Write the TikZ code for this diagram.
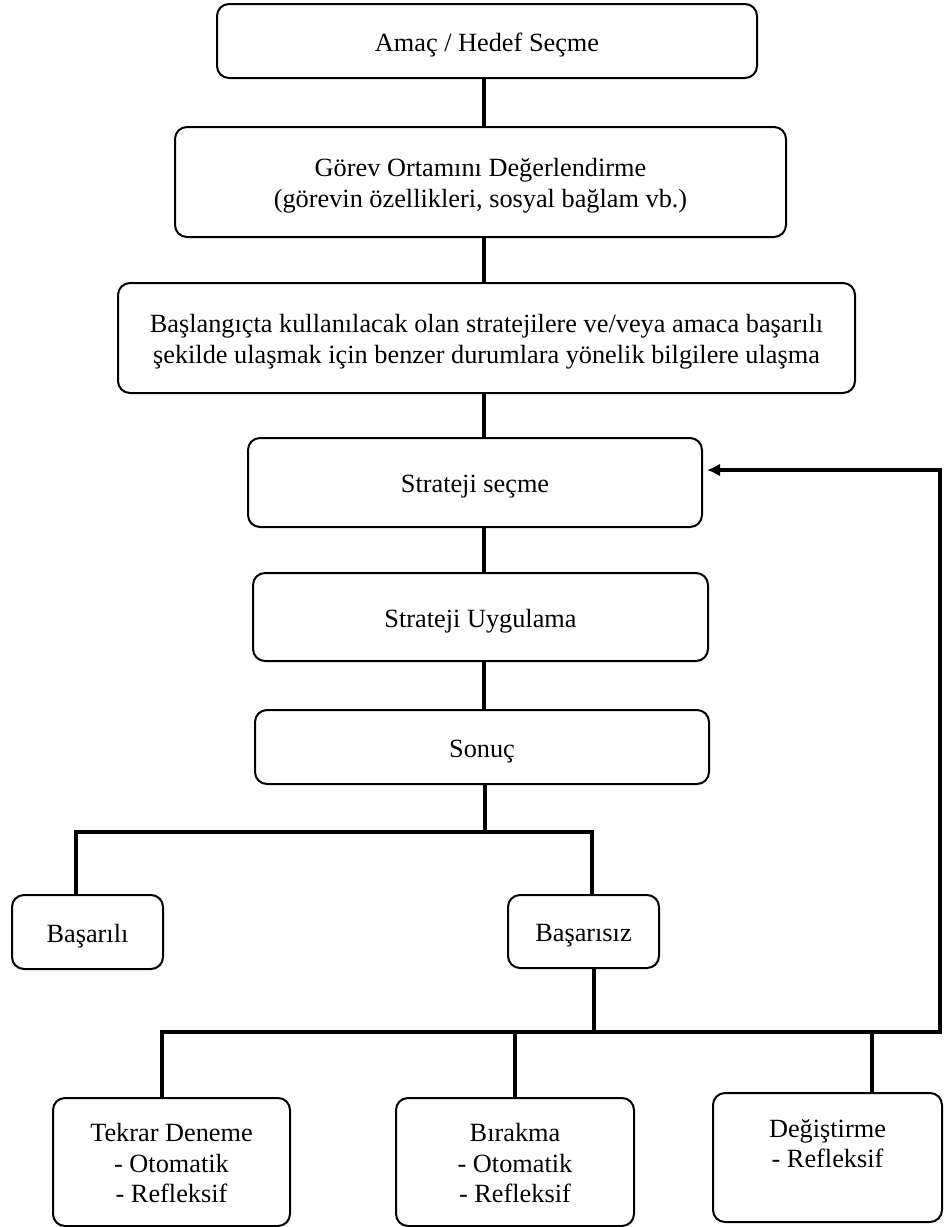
\documentclass[tikz,border=0pt]{standalone}
\usepackage{fontspec}
\setmainfont{Liberation Serif}
\usetikzlibrary{arrows.meta}
% struts that fix where the text lines sit inside their boxes
\newcommand\topstrut{\rule[-6pt]{0pt}{32pt}}
\newcommand\botstrut{\rule[-6pt]{0pt}{6pt}}
\begin{document}
\begin{tikzpicture}[x=1pt,y=-1pt,
  box/.style={draw, line width=2pt, rounded corners=12pt, align=center,
    inner sep=0pt, font=\fontsize{26.3}{30.5}\selectfont},
  link/.style={line width=4pt},
  back/.style={line width=3.5pt, -{Latex[length=13pt,width=13pt]}}]
\fill[white] (0,0) rectangle (944,1227);
\useasboundingbox (0,0) rectangle (944,1227);

% main chain of steps
\node[box, minimum width=540pt, minimum height=74pt] (b1) at (487,41) {\topstrut Amaç / Hedef Seçme};
\node[box, minimum width=611pt, minimum height=110pt] (b2) at (480.5,182)
  {\topstrut Görev Ortamını Değerlendirme\\(görevin özellikleri, sosyal bağlam vb.)\botstrut};
\node[box, minimum width=737pt, minimum height=110pt] (b3) at (486.5,338)
  {\topstrut Başlangıçta kullanılacak olan stratejilere ve/veya amaca başarılı\\şekilde ulaşmak için benzer durumlara yönelik bilgilere ulaşma\botstrut};
\node[box, minimum width=454pt, minimum height=89pt] (b4) at (475,482.5) {\topstrut Strateji seçme};
\node[box, minimum width=455pt, minimum height=88pt] (b5) at (480.5,617) {\topstrut Strateji Uygulama};
\node[box, minimum width=454pt, minimum height=74pt] (b6) at (482,747) {\topstrut Sonuç};

% outcomes
\node[box, minimum width=151pt, minimum height=74pt] (ok) at (87.5,932) {\topstrut Başarılı};
\node[box, minimum width=151pt, minimum height=73pt] (fail) at (583.5,931.5) {\topstrut Başarısız};

% reactions to failure
\node[box, minimum width=237pt, minimum height=128pt] (t1) at (171.5,1162)
  {\topstrut Tekrar Deneme\\- Otomatik\\- Refleksif\botstrut};
\node[box, minimum width=238pt, minimum height=128pt] (t2) at (515,1162)
  {\topstrut Bırakma\\- Otomatik\\- Refleksif\botstrut};
\node[box, minimum width=229pt, minimum height=129pt] (t3) at (827.5,1157.5)
  {\topstrut Değiştirme\\- Refleksif\\\botstrut};

% junction points
\coordinate (spine) at (484,0);
\coordinate (s1) at (485,832);
\coordinate (jl) at (76,832);
\coordinate (jr) at (592,832);
\coordinate (f1) at (594,1032);
\coordinate (kl) at (162,1032);
\coordinate (km) at (515,1032);
\coordinate (kn) at (872,1032);
\coordinate (kr) at (940,1032);
\coordinate (kt) at (940,470);
\coordinate (ka) at ([xshift=4pt]b4.east);

% vertical links between steps
\draw[link] (b1.south -| spine) -- (b2.north -| spine);
\draw[link] (b2.south -| spine) -- (b3.north -| spine);
\draw[link] (b3.south -| spine) -- (b4.north -| spine);
\draw[link] (b4.south -| spine) -- (b5.north -| spine);
\draw[link] (b5.south -| spine) -- (b6.north -| spine);
\draw[link] (b6.south -| s1) -- (s1);

% split into success / failure
\draw[link] (ok.north -| jl) -- (jl) -- (jr) -- (fail.north -| jr);

% failure branches and the loop back to strategy choice
\draw[link] (fail.south -| f1) -- (f1);
\draw[link] (t2.north -| km) -- (km);
\draw[link] (t3.north -| kn) -- (kn);
\draw[back] (t1.north -| kl) -- (kl) -- (kr) -- (kt) -- (ka |- kt);
\end{tikzpicture}
\end{document}
